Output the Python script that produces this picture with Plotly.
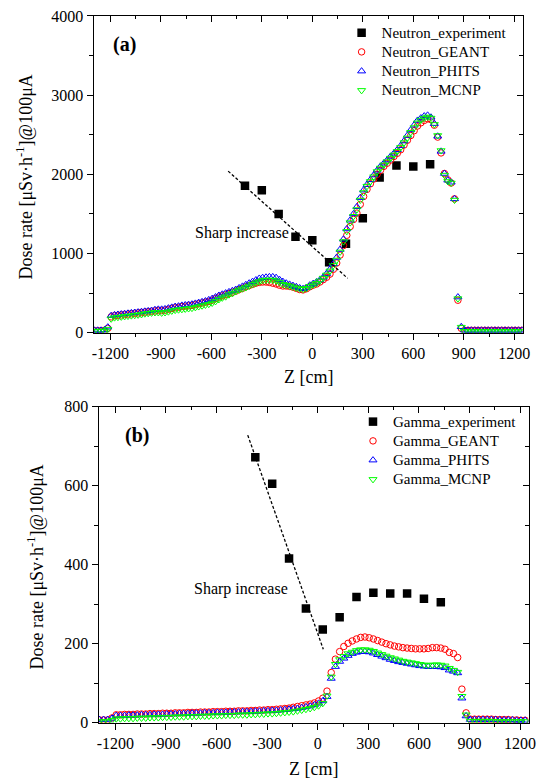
import numpy as np
import plotly.graph_objects as go

W, H = 543, 781

# ---------------- data : panel (a) neutron ----------------
z_neutron = np.arange(-1295, 1246, 20)  # simulation positions [cm]

neutron_geant = [
    25, 25, 25, 28, 55, 200, 215, 220, 225, 230,
    235, 240, 245, 250, 255, 260, 265, 270, 275, 280,
    280, 285, 295, 305, 315, 320, 330, 335, 340, 345,
    355, 365, 375, 385, 395, 410, 430, 450, 465, 480,
    495, 510, 525, 545, 560, 580, 595, 610, 625, 635,
    640, 640, 635, 625, 615, 600, 590, 590, 585, 575,
    560, 545, 540, 555, 580, 600, 615, 640, 670, 700,
    740, 800, 880, 980, 1100, 1230, 1340, 1430, 1510, 1620,
    1720, 1810, 1880, 1940, 2000, 2050, 2100, 2140, 2180, 2225,
    2265, 2310, 2370, 2430, 2490, 2550, 2610, 2650, 2680, 2700,
    2690, 2620, 2470, 2270, 2010, 1930, 1890, 1690, 410, 55,
    30, 30, 30, 30, 30, 30, 30, 30, 30, 30, 30, 30, 30, 30, 30, 30, 30, 30]

neutron_phits = [
    30, 30, 30, 35, 70, 215, 225, 230, 235, 240,
    245, 250, 255, 260, 265, 270, 275, 280, 290, 295,
    295, 300, 310, 320, 330, 335, 345, 350, 355, 360,
    370, 380, 390, 400, 415, 430, 450, 470, 485, 500,
    515, 530, 545, 565, 585, 605, 625, 645, 665, 685,
    695, 700, 705, 705, 695, 670, 645, 625, 610, 595,
    580, 565, 555, 570, 600, 620, 640, 665, 700, 745,
    800, 870, 950, 1050, 1180, 1310, 1420, 1500, 1590, 1705,
    1800, 1870, 1930, 1990, 2050, 2100, 2140, 2180, 2225, 2265,
    2310, 2360, 2420, 2490, 2560, 2620, 2680, 2710, 2735, 2745,
    2720, 2640, 2480, 2290, 2010, 1925, 1900, 1690, 450, 75,
    30, 30, 30, 30, 30, 30, 30, 30, 30, 30, 30, 30, 30, 30, 30, 30, 30, 30]

neutron_mcnp = [
    20, 20, 20, 22, 45, 175, 190, 195, 200, 205,
    210, 215, 220, 225, 230, 240, 245, 250, 255, 255,
    250, 255, 265, 275, 285, 290, 295, 300, 305, 310,
    320, 330, 340, 350, 360, 375, 395, 420, 440, 455,
    480, 495, 520, 540, 555, 570, 590, 610, 630, 645,
    660, 665, 665, 665, 655, 635, 610, 600, 590, 578,
    565, 555, 548, 560, 585, 605, 625, 655, 690, 730,
    780, 850, 918, 1020, 1150, 1280, 1390, 1470, 1555, 1675,
    1770, 1850, 1910, 1970, 2035, 2080, 2120, 2160, 2205, 2245,
    2290, 2340, 2400, 2460, 2530, 2590, 2650, 2685, 2710, 2725,
    2710, 2630, 2490, 2300, 1990, 1910, 1890, 1675, 430, 70,
    15, 15, 15, 15, 15, 15, 15, 15, 15, 15, 15, 15, 15, 15, 15, 15, 15, 15]

neutron_exp_z = [-400, -300, -200, -100, 0, 100, 200, 300, 400, 500, 600, 700]
neutron_exp = [1855, 1800, 1500, 1210, 1168, 888, 1122, 1445, 1960, 2110, 2100, 2128]

trend_a_z = [-500, 210]
trend_a_v = [2040, 687]

# ---------------- data : panel (b) gamma ----------------
z_gamma = np.arange(-1295, 1231, 25)

gamma_geant = [
    7, 7, 7, 12, 20, 20, 21, 21, 21, 22,
    22, 22, 23, 23, 23, 24, 24, 24, 25, 25,
    25, 26, 26, 26, 27, 27, 27, 28, 28, 28,
    29, 29, 29, 30, 30, 30, 31, 31, 32, 32,
    33, 33, 34, 35, 36, 37, 39, 41, 43, 45,
    47, 50, 55, 62, 80, 127, 161, 180, 193, 201,
    207, 212, 216, 217, 215, 212, 208, 204, 200, 197,
    194, 192, 190, 189, 188, 187, 187, 187, 188, 190,
    190, 189, 186, 178, 175, 165, 85, 25, 9, 9,
    9, 9, 9, 9, 8, 8, 8, 8, 7, 7, 6, 6]

gamma_phits = [
    8, 8, 8, 11, 18, 18, 18, 19, 19, 19,
    20, 20, 20, 21, 21, 21, 22, 22, 22, 23,
    23, 23, 24, 24, 24, 25, 25, 25, 26, 26,
    26, 27, 27, 27, 28, 28, 28, 29, 29, 30,
    30, 31, 31, 32, 33, 34, 35, 36, 38, 40,
    42, 45, 49, 55, 66, 112, 142, 155, 163, 170,
    175, 178, 180, 180, 179, 176, 172, 168, 164, 160,
    157, 154, 152, 150, 148, 146, 144, 143, 142, 142,
    142, 141, 139, 133, 130, 126, 62, 17, 8, 8,
    8, 8, 8, 8, 8, 7, 7, 7, 7, 6, 6, 6]

gamma_mcnp = [
    3, 3, 3, 6, 10, 10, 11, 11, 11, 12,
    12, 12, 13, 13, 13, 14, 14, 14, 15, 15,
    15, 16, 16, 16, 17, 17, 17, 18, 18, 18,
    19, 19, 19, 20, 20, 20, 21, 21, 22, 22,
    23, 23, 24, 25, 26, 27, 28, 30, 32, 34,
    36, 39, 43, 49, 68, 116, 148, 160, 168, 175,
    179, 183, 185, 185, 184, 181, 177, 173, 169, 165,
    162, 159, 156, 154, 152, 150, 148, 146, 146, 146,
    147, 146, 144, 138, 133, 128, 67, 20, 4, 4,
    4, 4, 4, 4, 3, 3, 3, 3, 3, 3, 3, 3]

gamma_exp_z = [-370, -270, -170, -70, 30, 130, 230, 330, 430, 530, 630, 730]
gamma_exp = [672, 605, 416, 289, 236, 267, 318, 329, 327, 327, 314, 305]

trend_b_z = [-415, 33]
trend_b_v = [728, 186]

x_tickvals = [-1200, -900, -600, -300, 0, 300, 600, 900, 1200]
x_ticktext = ["-1200", "-900", "-600", "-300", "0", "300", "600", "900", "1200"]

assert len(neutron_geant) == len(z_neutron) == len(neutron_phits) == len(neutron_mcnp)
assert len(gamma_geant) == len(z_gamma) == len(gamma_phits) == len(gamma_mcnp)

# ---------------- layout helpers (pixels -> paper) ----------------
def px(x):
    return x / W

def py(y):
    return 1 - y / H

FONT = "Liberation Serif"
RED, BLUE, GREEN = "#ff0000", "#0000ff", "#00ff00"
LEG_SPAN = '<span style="font-size:15px">%s</span>'

fig = go.Figure()

def add_panel(xa, ya, leg, z, geant, phits, mcnp, ez, ev, tz, tv, prefix):
    fig.add_trace(go.Scatter(x=ez, y=ev, mode="markers", name=LEG_SPAN % (prefix + "_experiment"),
                             marker=dict(symbol="square", size=8.5, color="black"),
                             xaxis=xa, yaxis=ya, legend=leg))
    fig.add_trace(go.Scatter(x=z, y=geant, mode="markers", name=LEG_SPAN % (prefix + "_GEANT"),
                             marker=dict(symbol="circle-open", size=6.5, color=RED,
                                         line=dict(width=1, color=RED)),
                             xaxis=xa, yaxis=ya, legend=leg))
    fig.add_trace(go.Scatter(x=z, y=phits, mode="markers", name=LEG_SPAN % (prefix + "_PHITS"),
                             marker=dict(symbol="triangle-up-open", size=7, color=BLUE,
                                         line=dict(width=1, color=BLUE)),
                             xaxis=xa, yaxis=ya, legend=leg))
    fig.add_trace(go.Scatter(x=z, y=mcnp, mode="markers", name=LEG_SPAN % (prefix + "_MCNP"),
                             marker=dict(symbol="triangle-down-open", size=7, color=GREEN,
                                         line=dict(width=1, color=GREEN)),
                             xaxis=xa, yaxis=ya, legend=leg))
    fig.add_trace(go.Scatter(x=tz, y=tv, mode="lines", showlegend=False,
                             line=dict(color="black", width=1.3, dash="3px,2px"),
                             xaxis=xa, yaxis=ya))

add_panel("x", "y", "legend", z_neutron, neutron_geant, neutron_phits, neutron_mcnp,
          neutron_exp_z, neutron_exp, trend_a_z, trend_a_v, "Neutron")
add_panel("x2", "y2", "legend2", z_gamma, gamma_geant, gamma_phits, gamma_mcnp,
          gamma_exp_z, gamma_exp, trend_b_z, trend_b_v, "Gamma")

tickfont = dict(family=FONT, size=16, color="black")

def xaxis_cfg(domain, anchor):
    return dict(domain=domain, anchor=anchor, range=[-1300, 1250], automargin=False,
                tickmode="array", tickvals=x_tickvals, ticktext=x_ticktext,
                ticks="outside", ticklen=6, tickwidth=1, tickcolor="black",
                minor=dict(tickmode="linear", tick0=0, dtick=150, ticks="outside",
                           ticklen=3.5, tickwidth=1, tickcolor="black"),
                showline=True, linecolor="black", linewidth=1, mirror=True,
                showgrid=False, zeroline=False, tickfont=tickfont)

def yaxis_cfg(domain, anchor, top, dt):
    return dict(domain=domain, anchor=anchor, range=[0, top], automargin=False,
                tickmode="linear", tick0=0, dtick=dt,
                ticks="outside", ticklen=6, tickwidth=1, tickcolor="black",
                minor=dict(tickmode="linear", tick0=0, dtick=dt / 2, ticks="outside",
                           ticklen=3.5, tickwidth=1, tickcolor="black"),
                showline=True, linecolor="black", linewidth=1, mirror=True,
                showgrid=False, zeroline=False, tickfont=tickfont)

def mirror_x(over, anchor):
    return dict(overlaying=over, anchor=anchor, side="top", range=[-1300, 1250],
                automargin=False,
                tickmode="linear", tick0=0, dtick=300, ticks="inside", ticklen=6,
                tickcolor="black", showticklabels=False, showline=False, showgrid=False,
                zeroline=False,
                minor=dict(tickmode="linear", tick0=0, dtick=150, ticks="inside",
                           ticklen=3.5, tickcolor="black"))

def mirror_y(over, anchor, top, dt):
    return dict(overlaying=over, anchor=anchor, side="right", range=[0, top],
                automargin=False,
                tickmode="linear", tick0=0, dtick=dt, ticks="inside", ticklen=6,
                tickcolor="black", showticklabels=False, showline=False, showgrid=False,
                zeroline=False,
                minor=dict(tickmode="linear", tick0=0, dtick=dt / 2, ticks="inside",
                           ticklen=3.5, tickcolor="black"))

top_x = [px(93.5), px(522.7)]
top_y = [py(332.7), py(15.9)]
bot_x = [px(98.5), px(528.5)]
bot_y = [py(722.7), py(406.7)]

# empty carriers so the mirrored tick axes are drawn
fig.add_trace(go.Scatter(x=[], y=[], xaxis="x3", yaxis="y3", showlegend=False))
fig.add_trace(go.Scatter(x=[], y=[], xaxis="x4", yaxis="y4", showlegend=False))

legfont = dict(family=FONT, size=12.5, color="black")

def note(text, x, y, size, xref="paper", yref="paper", angle=0):
    return dict(text=text, x=x, y=y, xref=xref, yref=yref, xanchor="center",
                yanchor="middle", textangle=angle, showarrow=False,
                font=dict(family=FONT, size=size, color="black"))

ytitle = "Dose rate [μSv·h<sup>-1</sup>]@100μA"
ann = [
    note("<b>(a)</b>", px(124), py(44), 20),
    note("<b>(b)</b>", px(137), py(435), 20),
    note("Sharp increase", -419, 1263, 16, "x", "y"),
    note("Sharp increase", -457, 338, 16, "x2", "y2"),
    note(ytitle, px(25), py(177.5), 18, angle=-90),
    note(ytitle, px(36), py(567.5), 18, angle=-90),
    note("Z [cm]", px(308), py(377), 18),
    note("Z [cm]", px(313), py(769), 18),
]

fig.update_layout(
    template="none",
    width=W, height=H, autosize=False,
    margin=dict(l=0, r=0, t=0, b=0, pad=0, autoexpand=False),
    paper_bgcolor="white", plot_bgcolor="white",
    font=dict(family=FONT, color="black"),
    xaxis=xaxis_cfg(top_x, "y"),
    yaxis=yaxis_cfg(top_y, "x", 4000, 1000),
    xaxis2=xaxis_cfg(bot_x, "y2"),
    yaxis2=yaxis_cfg(bot_y, "x2", 800, 200),
    xaxis3=mirror_x("x", "y"),
    yaxis3=mirror_y("y", "x", 4000, 1000),
    xaxis4=mirror_x("x2", "y2"),
    yaxis4=mirror_y("y2", "x2", 800, 200),
    legend=dict(x=px(341.6), y=py(18), xanchor="left", yanchor="top",
                bgcolor="rgba(0,0,0,0)", borderwidth=0, font=legfont),
    legend2=dict(x=px(353), y=py(407), xanchor="left", yanchor="top",
                 bgcolor="rgba(0,0,0,0)", borderwidth=0, font=legfont),
    annotations=ann,
    showlegend=True,
)

fig.write_html("out.html", config={"displayModeBar": False})
